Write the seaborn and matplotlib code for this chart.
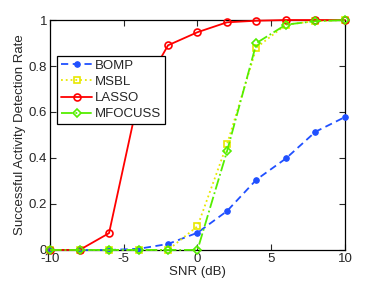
import matplotlib
matplotlib.use("Agg")
import matplotlib.pyplot as plt
import seaborn as sns
import pandas as pd

snr = [-10, -8, -6, -4, -2, 0, 2, 4, 6, 8, 10]
bomp = [0, 0, 0, 0.005, 0.026, 0.075, 0.169, 0.306, 0.398, 0.514, 0.578]
msbl = [0, 0, 0, 0, 0, 0.103, 0.459, 0.88, 0.98, 0.995, 1.0]
lasso = [0, 0, 0.073, 0.663, 0.89, 0.947, 0.99, 0.997, 1.0, 1.0, 1.0]
mfocuss = [0, 0, 0, 0, 0, 0, 0.429, 0.90, 0.98, 0.995, 1.0]

xticks = [-10, -5, 0, 5, 10]
yticks = [0, 0.2, 0.4, 0.6, 0.8, 1]

sns.set_style("ticks")
plt.rcParams['font.family'] = ['Liberation Sans', 'DejaVu Sans']

fig = plt.figure(figsize=(3.82, 2.86), dpi=100)
ax = fig.add_axes([0.131, 0.126, 0.772, 0.804])

styles = [
    ("BOMP", bomp, dict(color="#2050ff", linestyle=(0, (4, 2.5)), marker="o", markersize=4,
                        markerfacecolor="#2050ff", markeredgecolor="#2050ff")),
    ("MSBL", msbl, dict(color="#e8e800", linestyle=":", marker="s", markersize=4.5,
                        markerfacecolor="none", markeredgecolor="#e8e800", markeredgewidth=1.2)),
    ("LASSO", lasso, dict(color="#ff0000", linestyle="-", marker="o", markersize=5,
                          markerfacecolor="none", markeredgecolor="#ff0000", markeredgewidth=1.2)),
    ("MFOCUSS", mfocuss, dict(color="#55ee00", linestyle="-.", marker="D", markersize=4.5,
                              markerfacecolor="none", markeredgecolor="#55ee00", markeredgewidth=1.2)),
]

for name, vals, kw in styles:
    df = pd.DataFrame({"SNR": snr, "rate": vals})
    sns.lineplot(data=df, x="SNR", y="rate", ax=ax, label=name, linewidth=1.3,
                 clip_on=False, zorder=3, **kw)

ax.set_xlim(-10, 10)
ax.set_ylim(0, 1)
ax.set_xticks(xticks)
ax.set_xticklabels([str(t) for t in xticks])
ax.set_yticks(yticks)
ax.set_yticklabels(["0", "0.2", "0.4", "0.6", "0.8", "1"])
ax.tick_params(direction="in", top=True, right=True, labelsize=9.5, length=4, width=0.8, pad=2)
for s in ax.spines.values():
    s.set_linewidth(0.9)
    s.set_color("black")
    s.set_zorder(2)
ax.set_xlabel("SNR (dB)", fontsize=9.5, labelpad=1)
ax.set_ylabel("Successful Activity Detection Rate", fontsize=9.5, labelpad=2)

leg = ax.legend(loc="upper left", bbox_to_anchor=(0.025, 0.845), fontsize=9.5,
                frameon=True, fancybox=False, edgecolor="black", framealpha=1,
                handlelength=2.3, handletextpad=0.25, labelspacing=0.3, borderpad=0.3,
                borderaxespad=0)
leg.get_frame().set_linewidth(0.9)
leg.set_zorder(5)

fig.savefig("out.png", dpi=100)
